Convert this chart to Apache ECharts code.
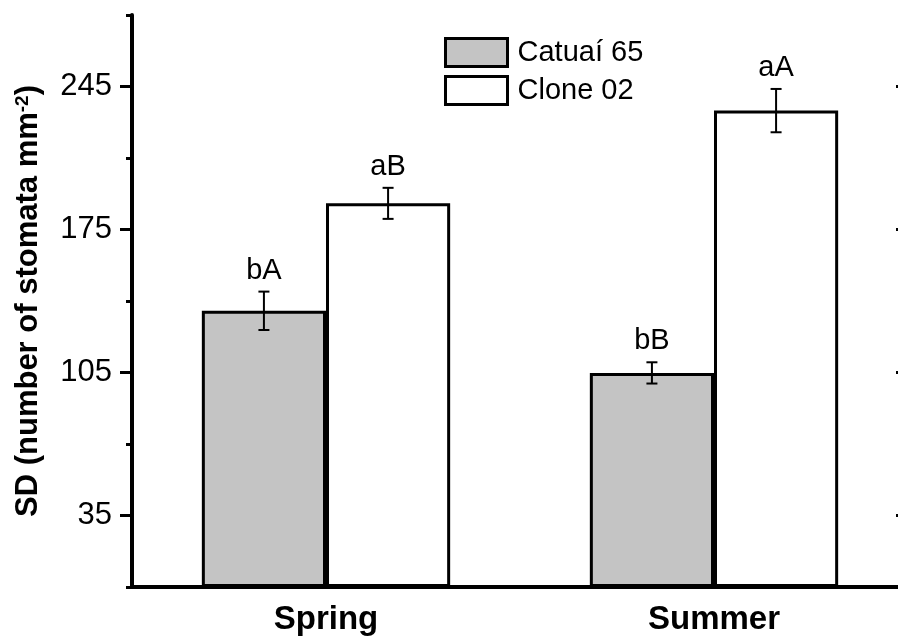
<!DOCTYPE html>
<html>
<head>
<meta charset="utf-8">
<script src="https://cdn.jsdelivr.net/npm/echarts@6/dist/echarts.min.js"></script>
<style>html,body{margin:0;padding:0;background:#fff;overflow:hidden}#chart{width:898px;height:641px}</style>
</head>
<body>
<div id="chart"></div>
<script>
const categories = ['Spring', 'Summer'];
const catuaiMeans = [135.2, 104.8];
const catuaiErr = [9.4, 5.2];
const catuaiLetters = ['bA', 'bB'];
const cloneMeans = [187.8, 233.2];
const cloneErr = [7.6, 10.6];
const cloneLetters = ['aB', 'aA'];
const yMajorTicks = [35, 105, 175, 245];
const yMin = 0, yMax = 280, yMinorInterval = 70;

const FONT = '"Liberation Sans", Arial, sans-serif';

function errRenderer(offsetFrac, letters) {
  return function (params, api) {
    const cat = api.value(0), mean = api.value(1), err = api.value(2);
    const band = api.size([1, 0])[0];
    const c = api.coord([cat, mean]);
    const x = c[0] + offsetFrac * band;
    const top = api.coord([cat, mean + err])[1];
    const bot = api.coord([cat, mean - err])[1];
    const cap = 5.5;
    const ls = { stroke: '#000', lineWidth: 2 };
    return {
      type: 'group',
      children: [
        { type: 'line', shape: { x1: x, y1: top, x2: x, y2: bot }, style: ls },
        { type: 'line', shape: { x1: x - cap, y1: top, x2: x + cap, y2: top }, style: ls },
        { type: 'line', shape: { x1: x - cap, y1: bot, x2: x + cap, y2: bot }, style: ls },
        { type: 'text', style: { text: letters[params.dataIndex], x: x, y: top - 21, align: 'center', verticalAlign: 'middle', fontSize: 29, fontFamily: FONT, fill: '#000' } }
      ]
    };
  };
}

const chart = echarts.init(document.getElementById('chart'), null, { renderer: 'canvas' });
chart.setOption({
  animation: false,
  backgroundColor: '#fff',
  grid: { left: 132, width: 776, top: 15, height: 572, containLabel: false, outerBoundsMode: 'none' },
  legend: {
    orient: 'vertical', left: 439, top: 32,
    itemWidth: 62, itemHeight: 28, itemGap: 7,
    icon: 'rect',
    itemStyle: { borderColor: '#000', borderWidth: 3 },
    textStyle: { fontSize: 29, fontFamily: FONT, color: '#000', padding: [0, 0, 0, 5] },
    data: ['Catuaí 65', 'Clone 02']
  },
  xAxis: [
    {
      type: 'category', data: categories, position: 'bottom',
      axisLine: { lineStyle: { color: '#000', width: 4, cap: 'square' } },
      axisTick: { show: false },
      axisLabel: { fontSize: 33, fontWeight: 'bold', fontFamily: FONT, color: '#000', margin: 16 },
      splitLine: { show: false }
    },
    {
      type: 'category', data: categories, position: 'top',
      axisLine: { lineStyle: { color: '#000', width: 4 } },
      axisTick: { show: false }, axisLabel: { show: false }, splitLine: { show: false }
    }
  ],
  yAxis: [
    {
      type: 'value', min: yMin, max: yMax, interval: yMinorInterval, position: 'left',
      axisLine: { show: true, lineStyle: { color: '#000', width: 4 } },
      axisTick: { show: true, length: 6, lineStyle: { color: '#000', width: 3 } },
      axisLabel: { show: false }, splitLine: { show: false },
      name: '{a|SD (number of stomata mm}{s|-2}{a|)}',
      nameLocation: 'middle', nameRotate: 90, nameGap: 88,
      nameTextStyle: {
        rich: {
          a: { fontSize: 31, fontWeight: 'bold', fontFamily: FONT, color: '#000' },
          s: { fontSize: 19, fontWeight: 'bold', fontFamily: FONT, color: '#000', verticalAlign: 'top' }
        }
      }
    },
    {
      type: 'value', min: yMin, max: yMax, position: 'left',
      axisLine: { show: false },
      axisTick: { show: true, length: 12, customValues: yMajorTicks, lineStyle: { color: '#000', width: 3 } },
      axisLabel: { show: true, customValues: yMajorTicks, fontSize: 31, fontFamily: FONT, color: '#000', margin: 20 },
      splitLine: { show: false }
    },
    {
      type: 'value', min: yMin, max: yMax, position: 'right',
      axisLine: { show: true, lineStyle: { color: '#000', width: 4 } },
      axisTick: { show: true, inside: true, length: 12, customValues: yMajorTicks, lineStyle: { color: '#000', width: 3 } },
      axisLabel: { show: false }, splitLine: { show: false }
    }
  ],
  series: [
    {
      name: 'Catuaí 65', type: 'bar', data: catuaiMeans, barWidth: '32%', barGap: '0%',
      itemStyle: { color: '#c4c4c4', borderColor: '#000', borderWidth: 3 }
    },
    {
      name: 'Clone 02', type: 'bar', data: cloneMeans, barWidth: '32%', barGap: '0%',
      itemStyle: { color: '#ffffff', borderColor: '#000', borderWidth: 3 }
    },
    {
      type: 'custom', z: 5, renderItem: errRenderer(-0.16, catuaiLetters),
      data: categories.map((c, i) => [i, catuaiMeans[i], catuaiErr[i]])
    },
    {
      type: 'custom', z: 5, renderItem: errRenderer(0.16, cloneLetters),
      data: categories.map((c, i) => [i, cloneMeans[i], cloneErr[i]])
    }
  ]
});
</script>
</body>
</html>
